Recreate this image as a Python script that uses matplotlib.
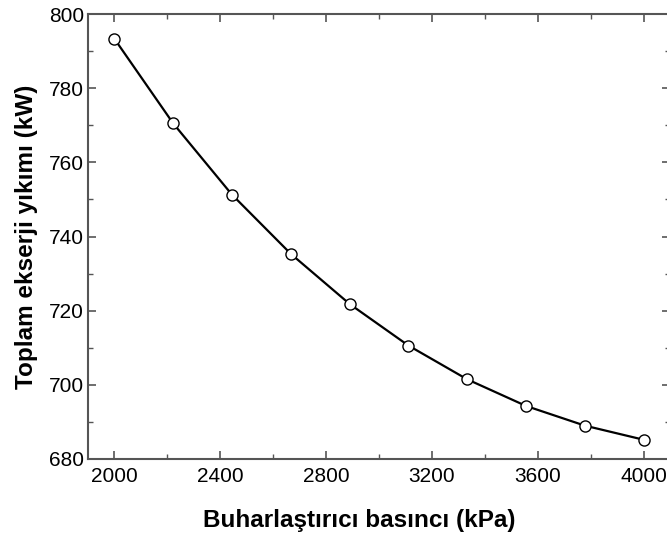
import matplotlib
matplotlib.use("Agg")
import matplotlib.pyplot as plt
from matplotlib.ticker import MultipleLocator

# evaporator pressure (kPa) and total exergy destruction (kW)
pressure = [2000, 2222, 2444, 2667, 2889, 3111, 3333, 3556, 3778, 4000]
exergy = [793.3, 770.5, 751.3, 735.3, 721.8, 710.6, 701.5, 694.3, 689.0, 685.2]

x_ticks = [2000, 2400, 2800, 3200, 3600, 4000]
y_ticks = [680, 700, 720, 740, 760, 780, 800]

plt.rcParams['font.family'] = ['Liberation Sans', 'DejaVu Sans']

fig = plt.figure(figsize=(6.67, 5.39), dpi=100)
ax = fig.add_axes([88 / 667, 1 - 459 / 539, 582 / 667, 445 / 539])

ax.plot(pressure, exergy, color='black', linewidth=1.6, marker='o',
        markersize=8, markerfacecolor='white', markeredgecolor='black',
        markeredgewidth=1.0, zorder=3)

ax.set_xlim(1900, 4100)
ax.set_ylim(680, 800)
ax.set_xticks(x_ticks)
ax.set_yticks(y_ticks)
ax.xaxis.set_minor_locator(MultipleLocator(200))
ax.yaxis.set_minor_locator(MultipleLocator(10))

spine_color = '#555555'
for s in ax.spines.values():
    s.set_color(spine_color)
    s.set_linewidth(1.5)

ax.tick_params(which='both', direction='in', top=True, right=True,
               color=spine_color, labelsize=15)
ax.tick_params(axis='x', pad=6)
ax.tick_params(axis='y', pad=3)
ax.tick_params(which='major', length=6, width=1.2)
ax.tick_params(which='minor', length=3.5, width=1.0)

ax.set_xlabel('Buharlaştırıcı basıncı (kPa)', fontsize=17.5, fontweight='bold',
              labelpad=11)
ax.set_ylabel('Toplam ekserji yıkımı (kW)', fontsize=17.5, fontweight='bold',
              labelpad=8)
ax.xaxis.set_label_coords(0.466, -0.112)

fig.savefig('out.png', dpi=100)
